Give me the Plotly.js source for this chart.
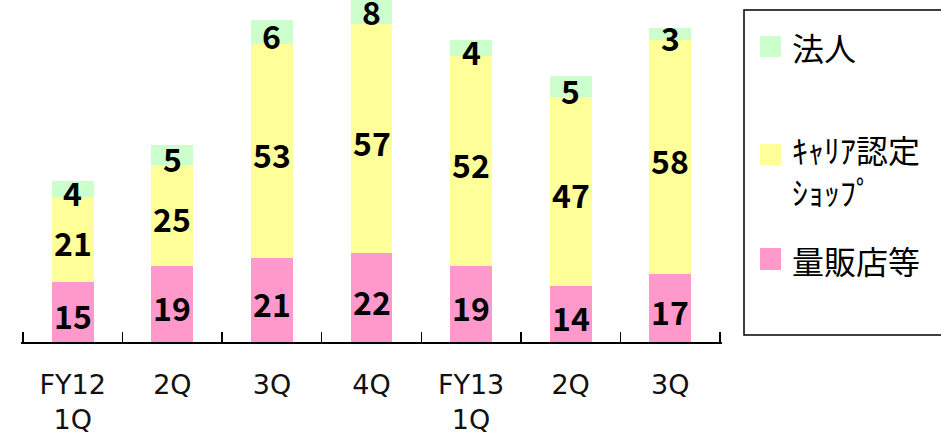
<!DOCTYPE html>
<html>
<head>
<meta charset="utf-8">
<script src="https://cdn.plot.ly/plotly-3.0.1.min.js"></script>
<style>html,body{margin:0;padding:0;background:#fff;}#chart{width:941px;height:438px;}</style>
</head>
<body>
<div id="chart"></div>
<script>
// ---- data ----
var categories = ['FY12 1Q', 'FY12 2Q', 'FY12 3Q', 'FY12 4Q', 'FY13 1Q', 'FY13 2Q', 'FY13 3Q'];
var tickLabels = ['FY12<br>1Q', '2Q', '3Q', '4Q', 'FY13<br>1Q', '2Q', '3Q'];
var seriesNames = ['量販店等', 'ｷｬﾘｱ認定ｼｮｯﾌﾟ', '法人'];
var massRetail = [15, 19, 21, 22, 19, 14, 17];
var carrierShop = [21, 25, 53, 57, 52, 47, 58];
var corporate = [4, 5, 6, 8, 4, 5, 3];

var colors = ['#FF99CC', '#FFFF99', '#CCFFCC'];
var numFont = {family: 'Noto Sans CJK JP, sans-serif', size: 32, color: '#000', weight: 'bold'};
var jpFont = 'Noto Sans CJK JP, sans-serif';

var alias = {};
categories.forEach(function (c, i) { alias[c] = tickLabels[i]; });

var seriesVals = [massRetail, carrierShop, corporate];
var data = seriesVals.map(function (vals, i) {
  return {
    type: 'bar', x: categories, y: vals, name: seriesNames[i],
    marker: {color: colors[i], line: {width: 0}},
    width: 0.42, hoverinfo: 'skip', showlegend: false
  };
});

// value labels centred in each stacked segment (data coordinates)
var annotations = [];
var base = categories.map(function () { return 0; });
seriesVals.forEach(function (vals) {
  vals.forEach(function (v, j) {
    annotations.push({x: categories[j], y: base[j] + v / 2, xref: 'x', yref: 'y', yshift: -3,
      text: String(v), showarrow: false, xanchor: 'center', yanchor: 'middle', font: numFont});
    base[j] += v;
  });
});

// legend geometry (paper coords; plot area 21..722 x, 0..342 y)
var W = 701, H = 342;
function px(x) { return (x - 21) / W; }
function py(y) { return (H - y) / H; }

var shapes = [
  {type: 'rect', xref: 'paper', yref: 'paper', x0: px(744), x1: px(950), y0: py(335), y1: py(10),
   line: {color: '#000', width: 1.5}, fillcolor: 'rgba(0,0,0,0)'},
  {type: 'rect', xref: 'paper', yref: 'paper', x0: px(760), x1: px(781), y0: py(57), y1: py(36), line: {width: 0}, fillcolor: colors[2]},
  {type: 'rect', xref: 'paper', yref: 'paper', x0: px(760), x1: px(781), y0: py(165), y1: py(144), line: {width: 0}, fillcolor: colors[1]},
  {type: 'rect', xref: 'paper', yref: 'paper', x0: px(760), x1: px(781), y0: py(270), y1: py(248), line: {width: 0}, fillcolor: colors[0]}
];
function legText(t, y, size) {
  return {xref: 'paper', yref: 'paper', x: px(790), y: py(y), xanchor: 'left', yanchor: 'middle',
    align: 'left', text: t, showarrow: false, font: {family: jpFont, size: size, color: '#000'}};
}
annotations.push(legText(seriesNames[2], 47, 32));
annotations.push(legText('ｷｬﾘｱ認定<br>ｼｮｯﾌﾟ', 170, 32));
annotations.push(legText(seriesNames[0], 260, 32));

var layout = {
  width: 941, height: 438,
  margin: {l: 21, r: 219, t: 0, b: 96, pad: 0},
  barmode: 'stack',
  paper_bgcolor: '#fff', plot_bgcolor: '#fff',
  showlegend: false,
  xaxis: {
    type: 'category', range: [-0.52, 6.52], labelalias: alias,
    showline: true, linecolor: '#000', linewidth: 1.5,
    ticks: 'inside', tickson: 'boundaries', ticklen: 10, tickwidth: 1.5, tickcolor: '#000',
    tickfont: {family: 'DejaVu Sans, sans-serif', size: 27, color: '#111'},
    ticklabelstandoff: 18,
    showgrid: false, zeroline: false, fixedrange: true
  },
  yaxis: {visible: false, range: [0, 85], showgrid: false, zeroline: false, fixedrange: true},
  shapes: shapes,
  annotations: annotations
};

Plotly.newPlot('chart', data, layout, {displayModeBar: false, staticPlot: true});
</script>
</body>
</html>
